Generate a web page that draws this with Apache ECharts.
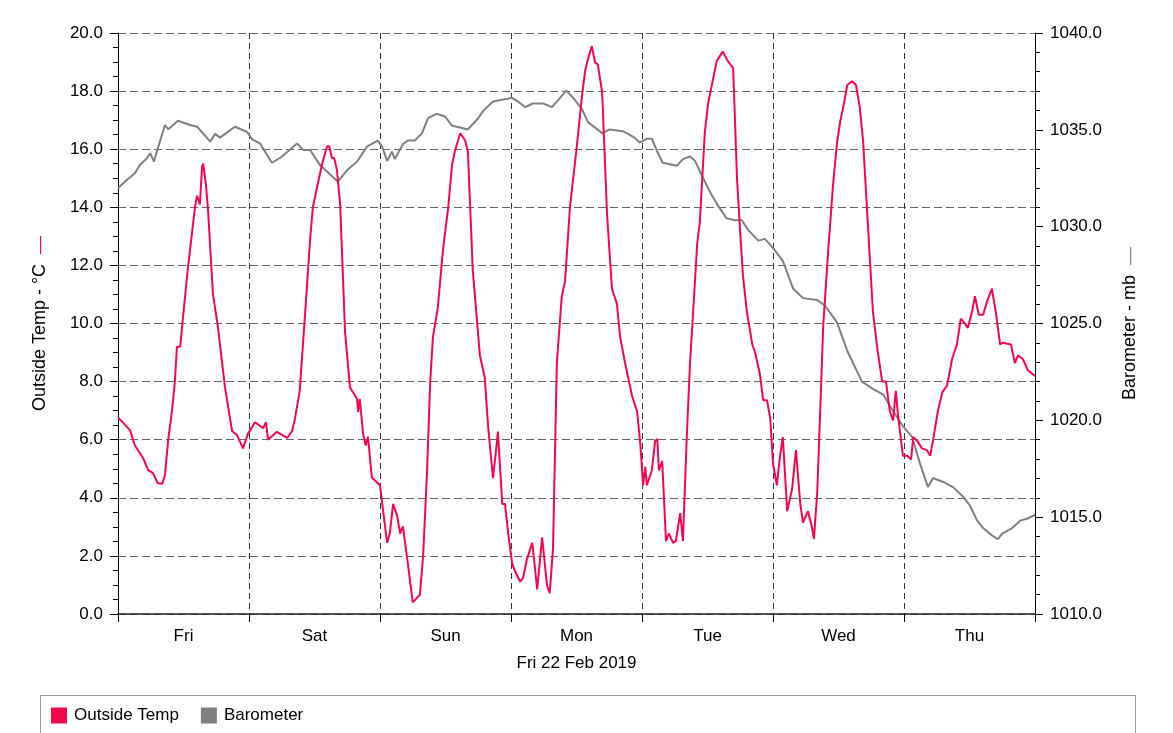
<!DOCTYPE html>
<html>
<head>
<meta charset="utf-8">
<script src="https://cdn.jsdelivr.net/npm/echarts@6/dist/echarts.min.js"></script>
<style>
html,body{margin:0;padding:0;background:#fff;}
#chart{width:1173px;height:733px;}
</style>
</head>
<body>
<div id="chart"></div>
<script>
// Hours since Fri 00:00 and values
const dayLabels = ['Fri', 'Sat', 'Sun', 'Mon', 'Tue', 'Wed', 'Thu'];
const dateLabel = 'Fri 22 Feb 2019';
const tempTicks = [0, 20, 2];
const baroTicks = [1010, 1040, 5];

const tempHours = [0,2.2,3.1,4.6,5.5,6.4,7.3,8.1,8.6,9.2,9.9,10.4,10.8,11.4,11.9,12.8,14.1,14.5,14.8,15.0,15.4,15.6,16.1,16.5,17.4,18.3,19.6,20.9,21.8,22.9,23.8,25.1,26.6,27.1,27.5,29.1,31.0,31.9,32.4,33.3,34.3,35.2,35.7,36.6,37.4,38.3,38.7,39.2,39.6,40.1,40.7,41.6,42.5,43.8,44.0,44.3,44.9,45.4,45.8,46.5,48.0,49.3,49.8,50.4,51.1,51.7,52.2,53.1,54.0,55.3,55.9,56.6,57.2,57.7,58.6,59.5,60.5,61.2,61.7,62.7,63.6,64.1,65.0,66.3,67.2,67.8,68.7,69.3,69.6,70.4,70.9,71.5,72.2,72.7,73.7,74.2,74.9,75.9,76.8,77.7,78.6,79.1,79.7,80.4,81.3,81.9,82.8,84.1,85.0,85.6,86.1,86.8,87.4,87.9,88.7,89.6,90.5,91.4,92.0,92.9,94.2,95.1,95.7,96.2,96.6,96.9,97.8,98.4,98.8,99.1,99.7,100.4,100.9,101.7,102.2,103.0,103.5,104.2,104.8,105.3,106.1,106.6,107.5,108.1,108.8,109.7,110.8,111.7,112.7,113.4,114.0,114.5,115.2,116.2,116.7,117.6,118.2,118.9,119.5,120.0,120.7,121.3,121.8,122.6,123.5,124.2,125.0,125.5,126.4,127.1,127.5,128.1,128.6,129.2,130.1,131.0,131.7,132.3,133.0,133.6,134.5,135.2,135.9,136.5,137.4,138.3,139.1,140.0,140.7,141.4,142.0,142.5,142.9,143.8,144.6,145.3,145.7,146.4,147.3,148.2,148.8,149.3,150.2,151.0,151.9,152.8,153.7,154.4,155.0,155.7,156.5,157.0,157.7,158.5,159.2,160.1,160.9,161.6,162.1,163.6,164.3,164.9,165.8,166.7,168.0];
const tempValues = [6.77,6.33,5.8,5.37,4.96,4.85,4.5,4.48,4.78,6.0,7.0,7.95,9.2,9.2,10.2,11.9,14.0,14.4,14.35,14.1,15.4,15.5,14.8,13.9,11.0,9.9,7.8,6.3,6.16,5.7,6.2,6.6,6.4,6.6,6.0,6.27,6.06,6.3,6.7,7.7,10.4,12.9,14.0,14.8,15.5,16.1,16.1,15.7,15.7,15.3,14.1,9.7,7.8,7.4,6.95,7.4,6.2,5.8,6.1,4.7,4.43,2.45,2.77,3.79,3.41,2.77,3.02,1.74,0.40,0.66,2.0,4.81,8.0,9.53,10.56,12.47,14.0,15.47,15.92,16.55,16.3,15.92,11.83,8.9,8.13,6.47,4.68,5.7,6.28,3.79,3.79,2.77,1.74,1.49,1.11,1.24,1.87,2.45,0.85,2.64,0.98,0.72,2.26,8.64,10.94,11.45,14.0,16.17,17.83,18.72,19.1,19.55,18.98,18.92,17.96,13.75,11.2,10.68,9.53,8.64,7.49,6.98,5.83,4.43,5.07,4.43,4.94,5.96,6.02,4.94,5.26,2.51,2.77,2.45,2.51,3.47,2.51,6.09,8.64,10.17,12.72,13.5,16.55,17.57,18.21,19.04,19.36,19.04,18.79,15.02,13.11,11.64,10.43,9.28,9.02,8.26,7.36,7.36,6.73,5.19,4.43,5.45,6.09,3.54,4.30,5.64,3.79,3.15,3.54,3.02,2.58,4.17,6.73,9.92,12.47,14.77,16.17,16.94,17.57,18.21,18.34,18.21,17.45,16.3,13.36,10.43,9.15,8.0,8.0,6.98,6.66,7.68,6.85,5.45,5.45,5.32,6.09,5.96,5.70,5.64,5.45,5.96,6.98,7.62,7.87,8.77,9.28,10.17,10.04,9.85,10.43,10.94,10.3,10.3,10.75,11.2,10.3,9.28,9.34,9.28,8.64,8.9,8.77,8.39,8.19];

const baroHours = [0,1.6,3.1,4.0,5.3,5.9,6.6,7.3,8.6,9.2,11.0,13.2,14.5,16.9,17.8,18.7,21.4,23.6,24.6,26.0,28.2,30.0,32.8,33.9,35.2,37.0,40.3,42.0,43.8,45.6,47.6,48.4,49.3,50.2,50.7,52.2,53.1,54.4,55.7,56.8,58.4,59.9,61.2,62.7,64.1,66.0,66.9,68.7,70.4,72.2,73.3,74.6,76.0,77.9,79.5,81.0,82.1,83.4,85.0,86.1,88.7,90.1,92.5,94.4,95.6,96.9,97.8,98.8,99.8,102.4,103.5,104.8,105.7,107.0,108.5,109.7,111.5,113.0,114.3,115.4,117.3,118.5,120.0,121.8,123.7,125.5,128.1,129.5,131.7,133.7,136.3,138.3,140.2,142.0,143.8,145.5,146.9,148.4,149.3,151.1,153.0,154.8,156.1,157.4,158.5,160.1,161.2,162.0,163.8,165.3,166.5,168.0];
const baroValues = [1031.98,1032.41,1032.76,1033.18,1033.53,1033.79,1033.36,1034.05,1035.25,1035.03,1035.47,1035.25,1035.16,1034.39,1034.79,1034.6,1035.16,1034.9,1034.51,1034.3,1033.3,1033.61,1034.3,1033.96,1033.96,1033.18,1032.32,1032.93,1033.36,1034.13,1034.44,1034.13,1033.39,1033.87,1033.49,1034.26,1034.45,1034.45,1034.83,1035.6,1035.83,1035.69,1035.21,1035.12,1035.02,1035.6,1035.98,1036.46,1036.55,1036.65,1036.46,1036.17,1036.36,1036.36,1036.17,1036.65,1037.03,1036.65,1036.07,1035.4,1034.83,1035.02,1034.93,1034.64,1034.35,1034.54,1034.54,1033.87,1033.3,1033.15,1033.49,1033.62,1033.4,1032.63,1031.77,1031.19,1030.43,1030.33,1030.33,1029.85,1029.28,1029.37,1028.9,1028.23,1026.79,1026.31,1026.21,1025.93,1025.07,1023.53,1022.0,1021.62,1021.33,1020.47,1019.7,1019.13,1017.79,1016.55,1017.02,1016.83,1016.55,1016.07,1015.59,1014.82,1014.44,1014.06,1013.87,1014.15,1014.44,1014.82,1014.92,1015.11];

const RED = '#f2074c';
const GRAY = '#808080';
const FONT = 'Liberation Sans, Arial, Helvetica, sans-serif';

const tempData = tempHours.map((h, i) => [h, tempValues[i]]);
const baroData = baroHours.map((h, i) => [h, baroValues[i]]);

const chart = echarts.init(document.getElementById('chart'), null, {renderer: 'canvas'});
chart.setOption({
  animation: false,
  backgroundColor: '#fff',
  textStyle: {fontFamily: FONT, color: '#000'},
  grid: {left: 118, right: 138, top: 33, bottom: 119, containLabel: false},
  graphic: [{
    type: 'rect', left: 38, top: 693, silent: true,
    shape: {width: 1095, height: 60},
    style: {fill: 'none', stroke: '#999', lineWidth: 1}
  }],
  legend: {
    left: 46, top: 702, itemWidth: 16, itemHeight: 16, itemGap: 22, icon: 'rect',
    textStyle: {fontSize: 17, fontFamily: FONT, color: '#000', padding: [0, 0, 0, 2]},
    data: ['Outside Temp', 'Barometer']
  },
  xAxis: [{
    type: 'value', min: 0, max: 168, interval: 24,
    axisLine: {show: true, onZero: false, lineStyle: {color: '#222', width: 1.5}},
    axisTick: {show: true, length: 8, lineStyle: {color: '#000', width: 1}},
    axisLabel: {show: false},
    splitLine: {show: true, lineStyle: {color: '#333', width: 1, type: [6, 4]}},
    name: dateLabel, nameLocation: 'middle', nameGap: 41,
    nameTextStyle: {fontSize: 17, fontFamily: FONT, color: '#000'}
  }, {
    type: 'category', data: dayLabels, boundaryGap: true, position: 'bottom',
    axisLine: {show: false}, axisTick: {show: false}, splitLine: {show: false},
    axisLabel: {margin: 14, fontSize: 17, fontFamily: FONT, color: '#000'}
  }],
  yAxis: [{
    type: 'value', min: tempTicks[0], max: tempTicks[1], interval: tempTicks[2], position: 'left',
    axisLine: {show: true, lineStyle: {color: '#000', width: 1}},
    axisTick: {show: true, length: 8, lineStyle: {color: '#000'}},
    minorTick: {show: true, splitNumber: 4, length: 5, lineStyle: {color: '#000'}},
    axisLabel: {margin: 15, fontSize: 17, fontFamily: FONT, color: '#000', formatter: v => v.toFixed(1)},
    splitLine: {show: true, lineStyle: {color: '#666', width: 1, type: [8, 4]}},
    name: '{t|Outside Temp - °C}  {r|—}', nameLocation: 'middle', nameRotate: 90, nameGap: 69,
    nameTextStyle: {fontSize: 18, fontFamily: FONT, color: '#000',
      rich: {t: {fontSize: 18, fontFamily: FONT, color: '#000'}, r: {fontSize: 18, fontFamily: FONT, color: RED}}}
  }, {
    type: 'value', min: baroTicks[0], max: baroTicks[1], interval: baroTicks[2], position: 'right',
    axisLine: {show: true, lineStyle: {color: '#000', width: 1}},
    axisTick: {show: true, length: 8, lineStyle: {color: '#000'}},
    minorTick: {show: true, splitNumber: 5, length: 5, lineStyle: {color: '#000'}},
    axisLabel: {margin: 15, fontSize: 17, fontFamily: FONT, color: '#000', formatter: v => v.toFixed(1)},
    splitLine: {show: false},
    name: '{t|Barometer - mb}  {r|—}', nameLocation: 'middle', nameRotate: 90, nameGap: 86,
    nameTextStyle: {fontSize: 18, fontFamily: FONT, color: '#000',
      rich: {t: {fontSize: 18, fontFamily: FONT, color: '#000'}, r: {fontSize: 18, fontFamily: FONT, color: GRAY}}}
  }],
  series: [{
    name: 'Outside Temp', type: 'line', xAxisIndex: 0, yAxisIndex: 0, data: tempData,
    showSymbol: false, symbol: 'none', z: 4, color: RED,
    lineStyle: {color: RED, width: 2}
  }, {
    name: 'Barometer', type: 'line', xAxisIndex: 0, yAxisIndex: 1, data: baroData,
    showSymbol: false, symbol: 'none', z: 3, color: GRAY,
    lineStyle: {color: GRAY, width: 2}
  }]
});
</script>
</body>
</html>
